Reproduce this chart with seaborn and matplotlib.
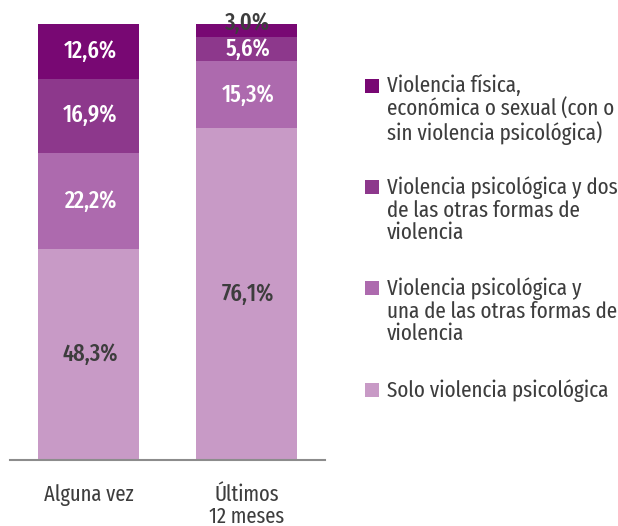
import matplotlib
matplotlib.use("Agg")
import matplotlib.pyplot as plt
import seaborn as sns
import pandas as pd
import numpy as np
from matplotlib.patches import Rectangle

categories = ["Alguna vez", "Últimos\n12 meses"]
series_names = [
    "Solo violencia psicológica",
    "Violencia psicológica y\nuna de las otras formas de\nviolencia",
    "Violencia psicológica y dos\nde las otras formas de\nviolencia",
    "Violencia física,\neconómica o sexual (con o\nsin violencia psicológica)",
]
solo = [48.3, 76.1]
una = [22.2, 15.3]
dos = [16.9, 5.6]
fisica = [12.6, 3.0]
values = [solo, una, dos, fisica]
colors = ["#c89ac6", "#ad6aae", "#8d388c", "#780873"]
text_colors = ["#3d3d3d", "white", "white", "white"]
FONT = ["Fira Sans Extra Condensed", "DejaVu Sans"]

sns.set_theme(style="white")
plt.rcParams["font.family"] = FONT

W, H = 618, 526
fig = plt.figure(figsize=(W / 100, H / 100), dpi=100)
ax = fig.add_axes([10 / W, 66 / H, 315 / W, 436 / H])

cum = np.cumsum(np.array(values), axis=0)
for i in range(len(values) - 1, -1, -1):
    df = pd.DataFrame({"cat": categories, "val": cum[i]})
    sns.barplot(data=df, x="cat", y="val", color=colors[i], width=0.64,
                ax=ax, saturation=1, linewidth=0, order=categories)

for j in range(len(categories)):
    bottom = 0
    for i, vals in enumerate(values):
        v = vals[j]
        y = bottom + v / 2
        col = text_colors[i]
        if v < 4:
            y = bottom + v / 2 + 1.6
            col = "#3d3d3d"
        ax.text(j + 0.01, y, f"{v:.1f}%".replace(".", ","), ha="center", va="center",
                fontsize=17.5, fontweight="medium", color=col)
        bottom += v

ax.set_xlim(-0.5, 1.5)
ax.set_ylim(0, 100)
ax.set_xlabel("")
ax.set_ylabel("")
ax.set_yticks([])
for s in ["top", "right", "left"]:
    ax.spines[s].set_visible(False)
ax.spines["bottom"].set_color("#8c8c8c")
ax.spines["bottom"].set_linewidth(1.5)
ax.set_xticks([0, 1])
ax.set_xticklabels(categories, fontsize=16, color="#3d3d3d", linespacing=1.05)
ax.tick_params(axis="x", which="major", length=0, pad=17)
ax.set_xticks([-0.5, 0.5, 1.5], minor=True)
ax.tick_params(axis="x", which="minor", length=8, width=1.5, color="#8c8c8c", direction="out")

# legend (top entry first), square aligned with the first text line
tops = [79, 180, 281, 383]
order = [3, 2, 1, 0]
for top, i in zip(tops, order):
    fig.patches.append(Rectangle((365 / W, 1 - (top + 14) / H), 14 / W, 14 / H,
                                 transform=fig.transFigure, facecolor=colors[i],
                                 edgecolor="none"))
    fig.text(387 / W, 1 - (top - 4) / H, series_names[i], ha="left", va="top",
             fontsize=16.5, color="#3d3d3d", linespacing=1.05)

fig.savefig("out.png", dpi=100)
